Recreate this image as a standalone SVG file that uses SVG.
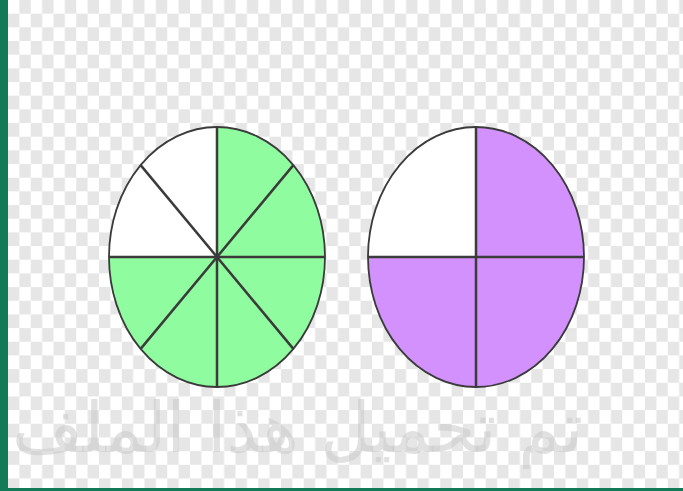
<svg xmlns="http://www.w3.org/2000/svg" width="683" height="491" viewBox="0 0 683 491">
  <style>
    .div { stroke: #3b3b3b; stroke-width: 2.5; fill: none; stroke-linecap: butt; }
    .rim { stroke: #3b3b3b; stroke-width: 1.8; fill: none; }
    .wm { font-family: "DejaVu Sans", sans-serif; font-size: 70px; fill: #c8c8c8; fill-opacity: 0.55; }
  </style>
  <defs>
    <pattern id="checker" patternUnits="userSpaceOnUse" x="8" y="0" width="22.75" height="27.34">
      <rect x="0" y="0" width="22.75" height="27.34" fill="#ffffff"/>
      <rect x="11.375" y="0" width="11.375" height="13.67" fill="#e6e6e6"/>
      <rect x="0" y="13.67" width="11.375" height="13.67" fill="#e6e6e6"/>
    </pattern>
  </defs>
  <rect x="0" y="0" width="683" height="491" fill="url(#checker)"/>

  <text class="wm" x="583" y="452" text-anchor="end" textLength="571" lengthAdjust="spacingAndGlyphs">تم تحميل هذا الملف</text>

  <rect x="0" y="0" width="8" height="491" fill="#127a56"/>
  <rect x="0" y="488" width="683" height="3" fill="#127a56"/>

  <g id="pie-eighths">
    <ellipse cx="217" cy="257" rx="108" ry="130" fill="#8ffc9f"/>
    <path d="M217 257 L217 127 A108 130 0 0 0 109 257 Z" fill="#ffffff"/>
    <line class="div" x1="217" y1="127" x2="217" y2="387"/>
    <line class="div" x1="109" y1="257" x2="325" y2="257"/>
    <line class="div" x1="140.63" y1="165.08" x2="293.37" y2="348.92"/>
    <line class="div" x1="293.37" y1="165.08" x2="140.63" y2="348.92"/>
    <ellipse class="rim" cx="217" cy="257" rx="108" ry="130"/>
  </g>

  <g id="pie-quarters">
    <ellipse cx="476" cy="257" rx="108" ry="130" fill="#d391fd"/>
    <path d="M476 257 L476 127 A108 130 0 0 0 368 257 Z" fill="#ffffff"/>
    <line class="div" x1="476" y1="127" x2="476" y2="387"/>
    <line class="div" x1="368" y1="257" x2="584" y2="257"/>
    <ellipse class="rim" cx="476" cy="257" rx="108" ry="130"/>
  </g>

  <g id="connectors"></g>
</svg>
